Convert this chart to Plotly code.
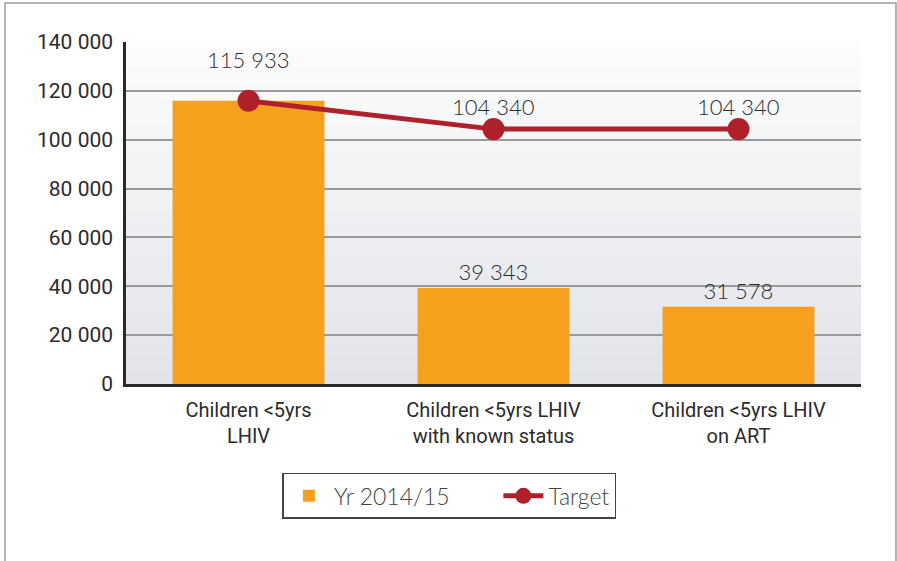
from plotly import graph_objects as go

# Children <5yrs living with HIV cascade against target
CATEGORIES = [
    "Children <5yrs<br>LHIV",
    "Children <5yrs LHIV<br>with known status",
    "Children <5yrs LHIV<br>on ART",
]
ACTUAL_2014_15 = [115933, 39343, 31578]
TARGET = [115933, 104340, 104340]
TARGET_LABELS = ["115 933", "104 340", "104 340"]
Y_TICKS = [0, 20000, 40000, 60000, 80000, 100000, 120000, 140000]

ORANGE = "#F7A01E"
RED = "#B0202B"
TEXT = "#2b2b2b"
GRID = "#9a9a9a"
NARROW = "Roboto, DejaVu Sans, sans-serif"
LIGHT = "Lato, Open Sans, sans-serif"
NBSP = "\u00a0"

fig = go.Figure()
fig.add_trace(go.Bar(
    x=CATEGORIES, y=ACTUAL_2014_15, name="Yr 2014/15" + NBSP * 7,
    marker={"color": ORANGE, "line": {"width": 0}},
    width=0.62,
    text=[f"{v:,}".replace(",", " ") for v in ACTUAL_2014_15],
    texttemplate=["", "%{text}", "%{text}"],
    textposition="outside", cliponaxis=False,
    textfont={"family": LIGHT, "size": 22, "color": TEXT, "weight": 300},
))
fig.add_trace(go.Scatter(
    x=CATEGORIES, y=TARGET, name="Target", mode="lines+markers",
    line={"color": RED, "width": 5},
    marker={"color": RED, "size": 22},
))

# target value labels sit above the points; the first is lifted clear of the bar
for cat, val, lab, shift in zip(CATEGORIES, TARGET, TARGET_LABELS, [41, 23, 23]):
    fig.add_annotation(
        x=cat, y=val, text=lab, showarrow=False, yshift=shift,
        font={"family": LIGHT, "size": 22, "color": TEXT, "weight": 300},
    )

# soft vertical gradient behind the plot area
steps = 24
for i in range(steps):
    t = i / (steps - 1)
    top = (252, 252, 253)
    bot = (226, 228, 233)
    col = tuple(round(top[k] + (bot[k] - top[k]) * t) for k in range(3))
    fig.add_shape(
        type="rect", xref="x domain", yref="y domain",
        x0=0, x1=1, y0=1 - (i + 1) / steps, y1=1 - i / steps,
        fillcolor=f"rgb{col}", line={"width": 0}, layer="below",
    )

# outer frame around the whole graphic
fig.add_shape(
    type="rect", xref="paper", yref="paper",
    x0=-0.1646, x1=1.0476, y0=-0.7, y1=1.114,
    line={"color": "#9c9c9c", "width": 1.5}, fillcolor="rgba(0,0,0,0)",
)

fig.update_layout(
    width=897, height=561,
    margin={"l": 126, "r": 36, "t": 42, "b": 177, "autoexpand": False},
    paper_bgcolor="white", plot_bgcolor="#eeeff2",
    separators=". ",
    showlegend=True,
    legend={
        "orientation": "h", "x": 0.44, "xanchor": "center",
        "y": -0.26, "yanchor": "top",
        "bordercolor": "#444444", "borderwidth": 1.5,
        "font": {"family": LIGHT, "size": 23, "color": "#444444", "weight": 300},
        "itemwidth": 40,
        "bgcolor": "white",
    },
    bargap=0.38,
)
fig.update_xaxes(
    showgrid=False, showline=True, linecolor="#2a2a2a", linewidth=2.5,
    tickfont={"family": NARROW, "size": 20, "color": TEXT},
    ticks="", ticklabelstandoff=6,
)
fig.update_yaxes(
    range=[0, 140000], tickvals=Y_TICKS, tickformat=",d",
    showgrid=True, gridcolor=GRID, gridwidth=1.5,
    showline=True, linecolor="#2a2a2a", linewidth=2.5,
    zeroline=False,
    tickfont={"family": NARROW, "size": 21, "color": TEXT},
    ticks="", ticklabelstandoff=6,
)

# drop the page's default body margin so the figure sits at the window origin
fig.write_html(
    "out.html",
    config={"displayModeBar": False},
    post_script="document.body.style.margin='0px';",
)
